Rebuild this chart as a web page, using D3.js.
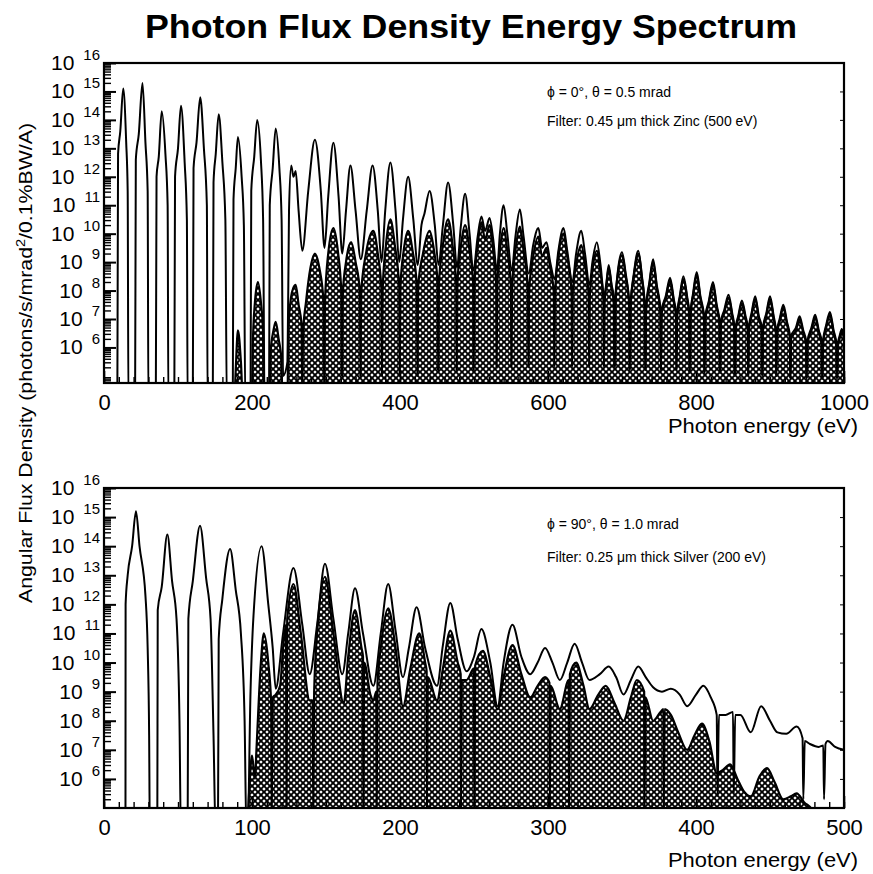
<!DOCTYPE html>
<html>
<head>
<meta charset="utf-8">
<script src="https://cdn.jsdelivr.net/npm/d3@7"></script>
<style>
  body { margin: 0; background: #fff; }
</style>
</head>
<body>
<script>
// Photon flux density spectra.
// every point is [photon energy (eV), log10 of flux density]

const topEnergyTicks = [0, 200, 400, 600, 800, 1000]
const botEnergyTicks = [0, 100, 200, 300, 400, 500]
const decadeLabels = [6, 7, 8, 9, 10, 11, 12, 13, 14, 15, 16]

const topNotes = ['ϕ = 0°, θ = 0.5 mrad', 'Filter: 0.45 μm thick Zinc (500 eV)']
const botNotes = ['ϕ = 90°, θ = 1.0 mrad', 'Filter: 0.25 μm thick Silver (200 eV)']

// top panel, no filter
const topOpen = [
  [0, 4], [18, 4], [19, 12.8], [22, 13.6], [26, 15.1], [30, 13.2], [32, 11.5], [33, 4],
  [42, 4], [43, 12.6], [47, 13.5], [52, 15.3], [56, 13.2], [59, 11.5], [60, 4],
  [70, 4], [71, 12.0], [74, 12.7], [78, 14.3], [83, 12.8], [86, 11.0], [87, 4],
  [95, 4], [96, 12.0], [100, 13.0], [104, 14.5], [109, 12.5], [112, 10.5], [113, 4],
  [120, 4], [121, 12.3], [125, 13.2], [130, 14.8], [135, 13.0], [139, 11.0], [140, 4],
  [147, 4], [148, 11.8], [151, 12.8], [155, 14.2], [160, 12.5], [164, 10.5], [166, 4],
  [174, 4], [175, 11.2], [178, 12.3], [181, 13.4], [186, 12.0], [189, 10.3], [191, 4],
  [198, 4], [199, 11.5], [203, 12.7], [207, 14.0], [212, 12.6], [215, 10.5], [217, 4],
  [223, 4], [224, 11.0], [228, 12.3], [232, 13.7], [237, 12.3], [240, 10.5], [242, 5],
  [248, 5.5], [250, 10.8], [253, 12.4], [256, 12.0], [259, 12.2], [263, 10.8], [268, 9.4],
  [276, 11.5], [285, 13.3], [293, 11.5], [298, 9.5],
  [303, 11.3], [310, 13.2], [317, 11.3], [322, 9.3],
  [327, 10.8], [333, 12.4], [340, 10.8], [347, 9.1],
  [355, 10.8], [363, 12.4], [370, 10.8], [375, 9.0],
  [380, 10.8], [387, 12.5], [394, 10.8], [399, 9.0],
  [404, 10.5], [411, 12.0], [418, 10.5], [424, 8.9],
  [429, 10.3], [433, 10.7], [440, 11.5], [447, 10.3], [452, 8.9],
  [458, 10.3], [465, 11.8], [472, 10.3], [477, 8.8],
  [482, 10.2], [488, 11.4], [494, 10.0], [499, 8.7],
  [505, 9.9], [510, 10.6], [515, 10.1], [521, 10.55], [526, 9.8], [531, 8.7],
  [535, 10.0], [540, 11.0], [545, 10.0], [551, 8.7],
  [556, 9.9], [562, 10.85], [567, 9.9], [574, 8.6],
  [580, 9.6], [587, 10.2], [592, 9.5], [598, 9.7], [603, 9.0], [609, 8.4],
  [614, 9.4], [621, 10.2], [626, 9.4], [633, 8.3],
  [638, 9.3], [645, 10.1], [650, 9.3], [656, 8.2],
  [660, 9.0], [666, 9.7], [671, 8.9], [676, 7.8],
  [679, 8.3], [682, 8.9], [686, 8.2], [690, 7.6], [690.5, 5.3], [691.5, 7.6],
  [694, 8.6], [700, 9.35], [705, 8.6], [710, 7.5], [710.5, 5.2], [711.5, 7.5],
  [716, 8.6], [722, 9.4], [727, 8.5], [731, 7.4], [731.5, 5.2], [732.5, 7.4],
  [737, 8.3], [742, 9.1], [747, 8.2], [752, 7.3], [752.5, 5.2], [753.5, 7.3],
  [759, 7.8], [765, 8.45], [770, 7.7], [773, 7.2], [773.5, 5.2], [774.5, 7.2],
  [778, 7.8], [783, 8.5], [788, 7.8], [791, 7.2], [791.5, 5.1], [792.5, 7.2],
  [796, 7.9], [801, 8.65], [806, 7.8], [811, 7.1], [811.5, 5.1], [812.5, 7.1],
  [817, 7.6], [823, 8.3], [828, 7.5], [832, 6.9], [832.5, 5.1], [833.5, 6.9],
  [838, 7.3], [844, 7.85], [849, 7.2], [852, 6.7], [852.5, 5.0], [853.5, 6.7],
  [857, 7.1], [862, 7.65], [867, 7.1], [870, 6.7], [870.5, 5.0], [871.5, 6.7],
  [875, 7.2], [880, 7.8], [885, 7.1], [889, 6.7], [889.5, 5.0], [890.5, 6.7],
  [895, 7.2], [900, 7.8], [905, 7.1], [908, 6.6], [908.5, 5.0], [909.5, 6.6],
  [913, 7.0], [918, 7.5], [923, 6.9], [927, 6.4], [927.5, 4.9], [928.5, 6.4],
  [935, 6.7], [940, 7.1], [945, 6.6], [949, 6.2], [949.5, 4.9], [950.5, 6.2],
  [956, 6.7], [961, 7.15], [966, 6.6], [970, 6.2], [970.5, 4.9], [971.5, 6.2],
  [976, 6.8], [981, 7.25], [986, 6.6], [990, 6.1], [990.5, 4.9], [991.5, 6.1],
  [994, 6.4], [997, 6.65], [1000, 6.4]
]

// top panel, through the zinc filter
const topFiltered = [
  [170, 4], [176, 4], [178, 5.2], [181, 6.6], [185, 5.5], [188, 4],
  [200, 4], [201, 6.0], [204, 7.6], [208, 8.3], [212, 7.6], [215, 6.5], [216, 4],
  [224, 4], [225, 5.8], [229, 6.6], [232, 6.9], [236, 6.3], [240, 5.5], [241, 4],
  [248, 4], [249, 6.6], [253, 7.8], [256, 8.1], [259, 8.2], [263, 7.5], [267, 6.8], [268, 4.5], [269, 6.5],
  [273, 7.6], [279, 8.8], [285, 9.3], [291, 8.8], [297, 7.5], [297.5, 4.5], [298.5, 7.5],
  [303, 9.3], [310, 10.2], [316, 9.4], [321, 7.8], [321.5, 5], [322.5, 7.8],
  [327, 9.0], [334, 9.7], [340, 9.0], [346, 7.9], [346.5, 5], [347.5, 7.9],
  [354, 9.3], [364, 10.1], [370, 9.3], [375, 8.0], [375.5, 5], [376.5, 8.0],
  [381, 9.6], [387, 10.5], [393, 9.6], [399, 8.1], [399.5, 5], [400.5, 8.1],
  [405, 9.4], [411, 10.1], [417, 9.4], [423, 8.1], [423.5, 5], [424.5, 8.1],
  [431, 9.3], [440, 10.1], [446, 9.4], [451, 8.2], [451.5, 5.2], [452.5, 8.2],
  [458, 9.6], [465, 10.5], [471, 9.6], [476, 8.2], [476.5, 5.2], [477.5, 8.2],
  [482, 9.5], [488, 10.3], [494, 9.4], [499, 8.2], [499.5, 5.2], [500.5, 8.2],
  [505, 9.6], [510, 10.4], [515, 9.8], [521, 10.3], [526, 9.4], [530, 8.2], [530.5, 5.3], [531.5, 8.2],
  [535, 9.4], [540, 10.2], [545, 9.4], [550, 8.1], [550.5, 5.3], [551.5, 8.1],
  [556, 9.4], [562, 10.25], [567, 9.4], [573, 8.0], [573.5, 5.3], [574.5, 8.0],
  [580, 9.2], [587, 9.9], [592, 9.2], [598, 9.5], [603, 8.8], [608, 7.9], [608.5, 5.3], [609.5, 7.9],
  [614, 9.2], [621, 10.0], [626, 9.2], [632, 7.9], [632.5, 5.3], [633.5, 7.9],
  [638, 8.9], [645, 9.6], [650, 8.9], [655, 7.8], [655.5, 5.3], [656.5, 7.8],
  [660, 8.7], [666, 9.4], [671, 8.6], [675, 7.6], [675.5, 5.3], [676.5, 7.6],
  [679, 8.2], [682, 8.8], [686, 8.1], [689, 7.5], [689.5, 5.3], [690.5, 7.5],
  [694, 8.5], [700, 9.25], [705, 8.5], [710, 7.4], [710.5, 5.2], [711.5, 7.4],
  [716, 8.5], [722, 9.3], [727, 8.4], [731, 7.3], [731.5, 5.2], [732.5, 7.3],
  [737, 8.2], [742, 9.0], [747, 8.1], [752, 7.2], [752.5, 5.2], [753.5, 7.2],
  [759, 7.7], [765, 8.35], [770, 7.6], [773, 7.1], [773.5, 5.2], [774.5, 7.1],
  [778, 7.7], [783, 8.4], [788, 7.7], [791, 7.1], [791.5, 5.1], [792.5, 7.1],
  [796, 7.8], [801, 8.55], [806, 7.7], [811, 7.0], [811.5, 5.1], [812.5, 7.0],
  [817, 7.5], [823, 8.2], [828, 7.4], [832, 6.8], [832.5, 5.1], [833.5, 6.8],
  [838, 7.2], [844, 7.75], [849, 7.1], [852, 6.6], [852.5, 5.0], [853.5, 6.6],
  [857, 7.0], [862, 7.55], [867, 7.0], [870, 6.6], [870.5, 5.0], [871.5, 6.6],
  [875, 7.1], [880, 7.7], [885, 7.0], [889, 6.6], [889.5, 5.0], [890.5, 6.6],
  [895, 7.1], [900, 7.7], [905, 7.0], [908, 6.5], [908.5, 5.0], [909.5, 6.5],
  [913, 6.9], [918, 7.4], [923, 6.8], [927, 6.3], [927.5, 4.9], [928.5, 6.3],
  [935, 6.6], [940, 7.0], [945, 6.5], [949, 6.1], [949.5, 4.9], [950.5, 6.1],
  [956, 6.6], [961, 7.05], [966, 6.5], [970, 6.1], [970.5, 4.9], [971.5, 6.1],
  [976, 6.7], [981, 7.15], [986, 6.5], [990, 6.0], [990.5, 4.9], [991.5, 6.0],
  [994, 6.3], [997, 6.55], [1000, 6.3]
]

// bottom panel, no filter
const botOpen = [
  [0, 4], [14.5, 4], [14.6, 12.0], [16, 13.0], [19, 14.0], [21.6, 15.2], [24, 14.0], [28, 12.3], [29.5, 10.5], [30.5, 7.5], [31, 4],
  [36, 4], [36.3, 11.8], [39, 12.6], [42.8, 14.4], [46, 12.8], [49, 11.5], [51, 8], [52, 4],
  [56.5, 4], [57, 11.5], [60, 12.8], [64.9, 14.7], [69, 12.9], [72, 11.5], [74, 7.5], [75.5, 4],
  [77, 4], [77.5, 10.8], [80, 12.2], [85.2, 13.9], [89, 12.5], [92.5, 11.0], [95, 8], [96.3, 4],
  [97, 4], [99, 9], [101, 11.6], [106.5, 14.0], [111, 12.0], [114, 10.5], [116, 9.1],
  [121, 11.0], [128, 13.25], [134, 11.3], [139, 9.6],
  [144, 11.3], [149.3, 13.4], [155, 11.5], [161, 9.6],
  [165, 11.0], [169.6, 12.55], [175, 11.0], [182, 9.2],
  [187, 11.0], [192, 12.7], [197, 11.1], [202, 9.5],
  [206, 10.5], [211.2, 11.9], [217, 10.5], [225, 9.2],
  [229, 10.6], [234, 12.05], [239, 10.8], [245, 9.7],
  [250, 10.2], [255, 11.15], [261, 10.0], [266, 8.5],
  [270, 10.0], [276, 11.3], [282, 10.2], [288, 9.6],
  [293, 10.0], [298, 10.5], [303, 10.0], [308, 9.4],
  [313, 10.0], [318, 10.65], [323, 10.0], [328, 9.4],
  [335, 9.6], [341, 9.86], [346, 9.5], [351, 8.9],
  [356, 9.4], [361, 9.86], [366, 9.5], [371, 9.15],
  [377, 9.0], [383, 9.1], [389, 8.9], [394, 8.5],
  [400, 8.9], [405, 9.2], [410, 8.8], [414, 8.2], [414.5, 5.4], [415.5, 8.2],
  [420, 8.2], [425, 8.3], [425.5, 5.5], [426.5, 8.2], [430, 8.2], [437, 7.6],
  [444, 8.5], [450, 8.0], [455, 7.6], [461, 7.55], [468, 7.8],
  [472, 7.4], [472.5, 5.3], [473.5, 7.3], [477, 7.2], [483, 7.1],
  [486, 7.15], [486.5, 5.3], [487.5, 7.2], [489, 7.3], [494, 7.1], [500, 7.0]
]

// bottom panel, through the silver filter
const botFiltered = [
  [95, 4], [96.5, 4], [98, 5.5], [100, 6.8], [102, 6.0], [103, 7.0], [106, 10.0], [108, 11.0], [111, 10.0],
  [113, 8.5], [113.3, 5], [114, 8.8], [116, 8.9], [119, 9.2], [121, 10.5], [123, 11.3], [123.3, 5], [123.8, 11.5],
  [128, 12.7], [133, 11.0], [139, 8.7], [141, 8.7], [141.4, 5], [142, 9],
  [144, 11.0], [149.3, 12.95], [155, 11.0], [162, 8.6],
  [165, 10.2], [169.6, 11.8], [174, 10.5], [175, 10.2], [175.2, 5], [175.8, 10], [180, 8.9],
  [182, 8.7], [184, 9.0], [184.2, 5], [184.8, 9.3], [187, 10.5], [192, 11.86], [197, 10.5], [202, 8.5],
  [207, 9.8], [213, 11.0], [217, 10.0], [218, 9.7], [218.2, 5], [218.8, 9.5], [225, 8.7],
  [229, 9.8], [234, 11.1], [239, 10.0], [241, 9.6], [241.2, 5], [241.8, 9.4], [245, 9.4],
  [250, 9.8], [250.2, 5], [250.8, 9.9], [256, 10.4], [261, 9.5], [266, 8.4],
  [270, 9.5], [276, 10.6], [282, 9.6], [288, 8.8],
  [293, 9.2], [298, 9.5], [301, 9.3], [301.2, 5], [301.8, 9.2], [308, 8.4],
  [314, 9.4], [314.2, 5], [314.8, 9.6], [319, 10.0], [324, 9.2], [328, 8.4],
  [334, 8.9], [339, 9.2], [345, 8.6], [351, 8.0],
  [356, 8.8], [360, 9.4], [365, 9.0], [365.2, 5], [365.8, 8.8], [371, 8.0],
  [376, 8.3], [378, 8.4], [378.2, 5], [378.8, 8.4], [383, 8.2], [388, 7.6], [394, 7.0],
  [399, 7.5], [404, 7.9], [409, 7.3], [414, 6.2],
  [418, 6.3], [423, 6.5], [428, 6.0], [432, 5.6], [437, 5.4],
  [443, 6.1], [448, 6.37], [453, 5.9], [459, 5.3],
  [464, 5.4], [468, 5.5], [473, 5.2], [479, 4.9], [480, 4], [500, 4]
]

const FONT = 'Liberation Sans, Arial, Helvetica, sans-serif'

const svgEl = d3.create('svg')
svgEl.attr('width', 873)
svgEl.attr('height', 874)
svgEl.style('background', '#fff')

// cross hatch used for the filtered spectra
const pat = svgEl.append('defs').append('pattern')
  .attr('id', 'hatch')
  .attr('patternUnits', 'userSpaceOnUse')
  .attr('width', 6)
  .attr('height', 6)
pat.append('rect').attr('width', 6).attr('height', 6).attr('fill', '#fff')
pat.append('path')
  .attr('d', 'M0,0L6,6M6,0L0,6M-1,5L1,7M5,-1L7,1M-1,1L1,-1M5,7L7,5')
  .attr('stroke', '#000')
  .attr('stroke-width', 1.9)

svgEl.append('text')
  .attr('x', 471)
  .attr('y', 38)
  .attr('text-anchor', 'middle')
  .attr('font-family', FONT)
  .attr('font-weight', 'bold')
  .attr('font-size', 34)
  .attr('textLength', 652)
  .attr('lengthAdjust', 'spacingAndGlyphs')
  .text('Photon Flux Density Energy Spectrum')

const yTitle = svgEl.append('text')
  .attr('transform', 'translate(32,363) rotate(-90)')
  .attr('text-anchor', 'middle')
  .attr('font-family', FONT)
  .attr('font-size', 19)
  .attr('textLength', 480)
  .attr('lengthAdjust', 'spacingAndGlyphs')
yTitle.append('tspan').text('Angular Flux Density (photons/s/mrad')
yTitle.append('tspan').attr('dy', -7).attr('font-size', 13).text('2')
yTitle.append('tspan').attr('dy', 7).text('/0.1%BW/A)')

function drawPanel(p) {
  const x = d3.scaleLinear().domain([0, p.xMax]).range([104, 844])
  const y = d3.scaleLog().domain([Math.pow(10, p.yMinExp), 1e16]).range([p.bottom, p.top])
  const px = (d) => x(d[0])
  const py = (d) => y(Math.pow(10, d[1]))

  const g = svgEl.append('g')

  g.append('clipPath').attr('id', p.id + '-clip')
    .append('rect')
    .attr('x', 104).attr('y', p.top)
    .attr('width', 740).attr('height', p.bottom - p.top)

  const plot = g.append('g').attr('clip-path', `url(#${p.id}-clip)`)

  plot.append('path')
    .datum(p.filtered)
    .attr('d', d3.area().x(px).y0(p.bottom).y1(py).curve(d3.curveMonotoneX))
    .attr('fill', 'url(#hatch)')

  plot.append('path')
    .datum(p.filtered)
    .attr('d', d3.line().x(px).y(py).curve(d3.curveMonotoneX))
    .attr('fill', 'none')
    .attr('stroke', '#000')
    .attr('stroke-width', 2.2)

  plot.append('path')
    .datum(p.open)
    .attr('d', d3.line().x(px).y(py).curve(d3.curveMonotoneX))
    .attr('fill', 'none')
    .attr('stroke', '#000')
    .attr('stroke-width', 2)

  // x ticks point into the frame
  const xMinor = d3.range(0, p.xMax + 1, p.xMinorStep)
  g.append('g')
    .attr('transform', `translate(0,${p.bottom})`)
    .attr('stroke-width', 1.4)
    .call(d3.axisBottom(x).tickValues(xMinor).tickSize(-6).tickFormat(''))
    .call((a) => a.select('.domain').remove())

  const xAxis = g.append('g')
    .attr('transform', `translate(0,${p.bottom})`)
    .call(d3.axisBottom(x).tickValues(p.xTicks).tickSize(-12).tickPadding(11).tickFormat(d3.format('d')))
  xAxis.select('.domain').remove()
  xAxis.selectAll('line').attr('stroke-width', 1.6)
  xAxis.selectAll('text')
    .attr('font-family', FONT)
    .attr('font-size', 22)
    .attr('fill', '#000')

  // log y ticks, decades and 2..9 minors
  const yMinor = []
  for (let n = Math.floor(p.yMinExp); n < 16; n++) {
    for (let k = 2; k < 10; k++) {
      const v = k * Math.pow(10, n)
      if (v >= y.domain()[0]) yMinor.push(v)
    }
  }
  const decades = decadeLabels.map((e) => Math.pow(10, e))

  g.append('g')
    .attr('transform', 'translate(104,0)')
    .call(d3.axisLeft(y).tickValues(yMinor).tickSize(-7).tickFormat(''))
    .call((a) => a.select('.domain').remove())
    .call((a) => a.selectAll('line').attr('stroke-width', 1.4))
  g.append('g')
    .attr('transform', 'translate(104,0)')
    .call(d3.axisLeft(y).tickValues(decades).tickSize(-12).tickFormat(''))
    .call((a) => a.select('.domain').remove())
    .call((a) => a.selectAll('line').attr('stroke-width', 2))
  g.append('g')
    .attr('transform', 'translate(844,0)')
    .call(d3.axisRight(y).tickValues(decades).tickSize(-4).tickFormat(''))
    .call((a) => a.select('.domain').remove())

  const labels = g.selectAll('.ylab')
    .data(decadeLabels)
    .join('text')
    .attr('class', 'ylab')
    .attr('x', 100)
    .attr('y', (e) => y(Math.pow(10, e)) + 7)
    .attr('text-anchor', 'end')
    .attr('font-family', FONT)
  labels.append('tspan').attr('font-size', 21).text('10')
  labels.append('tspan')
    .attr('font-size', 15)
    .attr('dx', 9)
    .attr('dy', -10)
    .text((e) => e)

  g.append('rect')
    .attr('x', 104).attr('y', p.top)
    .attr('width', 740).attr('height', p.bottom - p.top)
    .attr('fill', 'none')
    .attr('stroke', '#000')
    .attr('stroke-width', 2.2)

  g.append('text')
    .attr('x', 668)
    .attr('y', p.titleY)
    .attr('font-family', FONT)
    .attr('font-size', 20)
    .attr('textLength', 190)
    .attr('lengthAdjust', 'spacingAndGlyphs')
    .text('Photon energy (eV)')

  g.selectAll('.note')
    .data(p.notes)
    .join('text')
    .attr('class', 'note')
    .attr('x', 547)
    .attr('y', (d, i) => p.noteY[i])
    .attr('font-family', FONT)
    .attr('font-size', 14)
    .text((d) => d)
}

drawPanel({
  id: 'top', top: 63, bottom: 383, xMax: 1000, xMinorStep: 20, yMinExp: 4.75,
  xTicks: topEnergyTicks, open: topOpen, filtered: topFiltered,
  notes: topNotes, noteY: [97, 126], titleY: 433
})

drawPanel({
  id: 'bot', top: 488, bottom: 808, xMax: 500, xMinorStep: 10, yMinExp: 5,
  xTicks: botEnergyTicks, open: botOpen, filtered: botFiltered,
  notes: botNotes, noteY: [529, 562], titleY: 867
})

document.body.appendChild(svgEl.node())
</script>
</body>
</html>
